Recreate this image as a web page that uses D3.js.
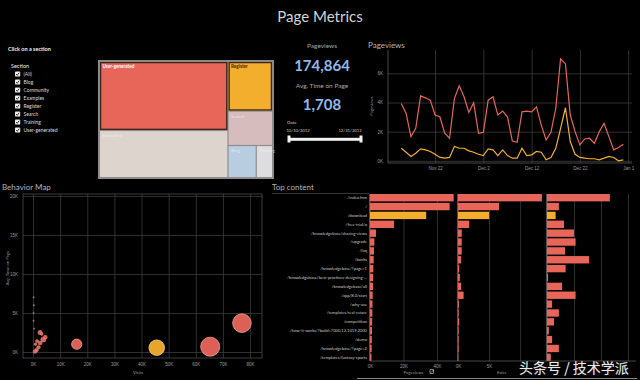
<!DOCTYPE html>
<html>
<head>
<meta charset="utf-8">
<script src="https://cdn.jsdelivr.net/npm/d3@7"></script>
<style>
  body { margin: 0; background: #000; }
  svg { display: block; font-family: Lato, "Open Sans", sans-serif; }
  .grid line { stroke: #3c3c3c; stroke-width: 0.8; }
  .grid .domain { display: none; }
  .grid text { fill: #9a9a9a; font-size: 4.5px; }
</style>
</head>
<body>
<svg id="chart" width="640" height="380"></svg>
<script>
// ---- data ----
var sections = ["(All)", "Blog", "Community", "Examples", "Register", "Search", "Training", "User-generated"];

var treeNames  = ["User-generated", "Examples", "Register", "Search", "Blog", "Training"];
var treeValues = [44, 30, 11, 7.6, 4.5, 2.6];
var treeParent = ["left", "left", "right", "right", "rest", "rest"];
var treeSelected = ["User-generated", "Register"];

var kpiLabels = ["Pageviews", "Avg. Time on Page"];
var kpiValues = [174864, 1708];
var dateRange = ["10/10/2012", "12/31/2012"];

var lineDays = d3.timeDay.range(new Date(2012, 10, 15), new Date(2013, 0, 1));
var pageviewsAll = [3930,3250,1660,2230,4450,4320,4160,3140,3020,1890,
                    1550,4270,5140,4390,3320,3980,1890,1950,4160,4390,
                    3140,3410,3020,1360,1270,3360,3410,3360,3700,2450,
                    1430,1950,3590,7000,6660,3140,2000,1090,1500,1550,
                    1200,2000,2570,1660,750,910,1140];
var pageviewsDownload = [860,590,300,520,820,750,640,450,230,180,
                         230,980,860,860,680,590,450,360,820,750,
                         360,750,360,180,180,860,360,410,640,590,
                         70,230,860,2230,3640,1320,450,230,180,140,
                         140,70,180,300,230,0,70];
var lineTicks = [new Date(2012, 10, 22), new Date(2012, 11, 2), new Date(2012, 11, 12), new Date(2012, 11, 22), new Date(2013, 0, 1)];

var topPages = ["/index.htm", "/", "/download", "/free-trial/o", "/knowledgebase/sharing-views",
                "/upgrade", "/faq", "/banks", "/knowledgebase/?page=1",
                "/knowledgebase/best-practices-designing-...", "/knowledgebase/all", "/app/8.0/start",
                "/why-use", "/templates/real-estate", "/competition",
                "/how-it-works/?build=7000.12.1019.2000", "/demo", "/knowledgebase/?page=2",
                "/templates/fantasy-sports"];
var topPageviews = [50000,47600,33600,14400,3600,2600,2400,2200,2000,1900,1800,1600,1500,1400,1300,1200,1100,1000,900];
var topExits = [13500,6600,5000,1800,600,600,600,500,200,300,500,900,150,100,200,100,100,100,50];
var topThird = [2.33,0.44,0.32,0.63,1.0,1.06,0.67,1.56,0.69,0.04,0.56,1.06,0.19,0.44,0.26,0.07,0.19,0.44,0.14];

// behavior map, one point per top page
var bmVisits = [65300,77000,45600,16100,3800,2600,2600,4500,1300,700,2000,200,200,200,1500,400,3200,900,300];
var bmTime   = [680,3700,550,1000,1600,2500,1150,1900,250,50,600,7000,5000,4000,1400,3000,2300,1000,6000];

var highlight = "/download";

// ---- colours ----
var red = "#e8655a", orange = "#f3ae2e";
var treeColor = {"User-generated": red, "Examples": "#ddd5cd", "Register": orange,
                 "Search": "#d7bcbe", "Blog": "#b9cde0", "Training": "#dddde0"};

var svg = d3.select("#chart");

svg.append("text")
    .attr("x", 320).attr("y", 22)
    .attr("text-anchor", "middle")
    .attr("fill", "#d4d4d4")
    .attr("font-size", 15)
    .text("Page Metrics");

// ---- filter list ----
var filter = svg.append("g");
filter.append("text")
    .attr("x", 8).attr("y", 51)
    .attr("fill", "#eee").attr("font-size", 5.5).attr("font-weight", "bold")
    .text("Click on a section");
filter.append("text")
    .attr("x", 11).attr("y", 67.5)
    .attr("fill", "#eee").attr("font-size", 5.5)
    .text("Section");

var item = filter.selectAll("g.item")
        .data(sections)
        .enter()
    .append("g")
        .attr("class", "item")
        .attr("transform", function(d, i) { return "translate(15," + (74 + i * 8) + ")"; });
item.append("rect")
    .attr("x", 0).attr("y", -2.6).attr("width", 5.2).attr("height", 5.2).attr("rx", 0.8)
    .attr("fill", "#f2f2f2");
item.append("path")
    .attr("d", "M1.1,0 L2.3,1.3 L4.2,-1.3")
    .attr("fill", "none").attr("stroke", "#222").attr("stroke-width", 0.9);
item.append("text")
    .attr("x", 8.5).attr("y", 1.8)
    .attr("fill", "#ddd").attr("font-size", 5)
    .text(function(d) { return d; });

// ---- treemap ----
var treeRows = [{id: "root"}, {id: "left", parent: "root"}, {id: "right", parent: "root"}];
treeNames.forEach(function(n, i) {
    if (treeParent[i] == "rest" && !treeRows.find(function(r) { return r.id == "rest"; }))
        treeRows.push({id: "rest", parent: "right"});
    treeRows.push({id: n, parent: treeParent[i], value: treeValues[i]});
});
var root = d3.stratify()
    .id(function(d) { return d.id; })
    .parentId(function(d) { return d.parent; })(treeRows)
    .sum(function(d) { return d.value || 0; });
d3.treemap().tile(d3.treemapSliceDice).size([172, 115]).paddingInner(1.2)(root);

var tm = svg.append("g").attr("transform", "translate(100,62)");
tm.append("rect")
    .attr("x", -2).attr("y", -2).attr("width", 176).attr("height", 119)
    .attr("fill", "#8d8d8d");
var cell = tm.selectAll("g.cell")
        .data(root.leaves())
        .enter()
    .append("g")
        .attr("class", "cell");
cell.append("rect")
    .attr("x", function(d) { return d.x0; })
    .attr("y", function(d) { return d.y0; })
    .attr("width", function(d) { return d.x1 - d.x0; })
    .attr("height", function(d) { return d.y1 - d.y0; })
    .attr("fill", function(d) { return treeColor[d.id]; });
cell.filter(function(d) { return treeSelected.includes(d.id); })
    .append("rect")
    .attr("x", function(d) { return d.x0 + 0.6; })
    .attr("y", function(d) { return d.y0 + 0.6; })
    .attr("width", function(d) { return d.x1 - d.x0 - 1.2; })
    .attr("height", function(d) { return d.y1 - d.y0 - 1.2; })
    .attr("fill", "none").attr("stroke", "#3b2418").attr("stroke-width", 1.3);
cell.append("text")
    .attr("x", function(d) { return d.x0 + 2.5; })
    .attr("y", function(d) { return d.y0 + 6; })
    .attr("font-size", 4.6)
    .attr("font-weight", function(d) { return treeSelected.includes(d.id) ? "bold" : "normal"; })
    .attr("fill", function(d) {
        if (d.id == "User-generated") return "#fff";
        if (d.id == "Register") return "#3a2410";
        return "rgba(255,255,255,0.55)";
    })
    .text(function(d) { return d.id; });

// ---- KPIs ----
var kpi = svg.append("g").attr("text-anchor", "middle");
kpiLabels.forEach(function(lab, i) {
    kpi.append("text")
        .attr("x", 322).attr("y", 47.5 + i * 40.5)
        .attr("fill", "#a8a8a8").attr("font-size", 6.5)
        .text(lab);
    kpi.append("text")
        .attr("x", 322).attr("y", 70.5 + i * 39.5)
        .attr("fill", "#8fb9ea").attr("font-size", 15).attr("font-weight", "bold")
        .text(d3.format(",")(kpiValues[i]));
});
svg.append("text")
    .attr("x", 287).attr("y", 124)
    .attr("fill", "#ccc").attr("font-size", 4.6)
    .text("Date");
svg.selectAll("text.date")
        .data(dateRange)
        .enter()
    .append("text")
        .attr("class", "date")
        .attr("x", function(d, i) { return i ? 350 : 298; })
        .attr("y", 131.5)
        .attr("text-anchor", "middle")
        .attr("fill", "#ccc").attr("font-size", 4.2)
        .text(function(d) { return d; });
svg.append("rect")
    .attr("x", 289).attr("y", 137.8).attr("width", 72).attr("height", 3)
    .attr("fill", "#f2f2f2");
[289, 361].forEach(function(x) {
    svg.append("path")
        .attr("d", "M" + (x - 1.5) + ",135.5 h3 v7 h-3 z")
        .attr("fill", "#f2f2f2");
});

// ---- pageviews line chart ----
svg.append("text")
    .attr("x", 368).attr("y", 48)
    .attr("fill", "#b5b5b5").attr("font-size", 8)
    .text("Pageviews");

var lx = d3.scaleTime()
    .domain([new Date(2012, 10, 12, 6), new Date(2013, 0, 1, 19)])
    .range([388, 632]);
var ly = d3.scaleLinear().domain([-150, 7600]).range([163, 50]);

svg.append("g")
    .attr("class", "grid")
    .attr("transform", "translate(0,163)")
    .call(d3.axisBottom(lx).tickValues(lineTicks).tickSize(-113).tickPadding(4)
        .tickFormat(d3.timeFormat("%b %-d")));
svg.append("g")
    .attr("class", "grid")
    .attr("transform", "translate(388,0)")
    .call(d3.axisLeft(ly).tickValues([0, 2000, 4000, 6000]).tickSize(-244).tickPadding(5)
        .tickFormat(function(d) { return d / 1000 + "K"; }));
svg.append("path")
    .attr("d", "M388,50 V163 H632")
    .attr("fill", "none").attr("stroke", "#666").attr("stroke-width", 0.7);
svg.append("text")
    .attr("transform", "translate(373,106) rotate(-90)")
    .attr("text-anchor", "middle")
    .attr("fill", "#999").attr("font-size", 4.2)
    .text("Pageviews");

var line = d3.line()
    .x(function(d, i) { return lx(lineDays[i]); })
    .y(function(d) { return ly(d); });
svg.append("path")
    .datum(pageviewsAll)
    .attr("d", line)
    .attr("fill", "none").attr("stroke", red).attr("stroke-width", 1.2);
svg.append("path")
    .datum(pageviewsDownload)
    .attr("d", line)
    .attr("fill", "none").attr("stroke", orange).attr("stroke-width", 1.2);

// ---- behavior map ----
svg.append("text")
    .attr("x", 2).attr("y", 190)
    .attr("fill", "#b5b5b5").attr("font-size", 8)
    .text("Behavior Map");

var bx = d3.scaleLinear().domain([-3700, 84400]).range([23, 262]);
var by = d3.scaleLinear().domain([-770, 20250]).range([358, 194]);
var br = d3.scaleSqrt().domain([0, 50000]).range([0, 9.5]);

svg.append("g")
    .attr("class", "grid")
    .attr("transform", "translate(0,358)")
    .call(d3.axisBottom(bx).tickValues(d3.range(0, 80001, 10000)).tickSize(-164).tickPadding(5)
        .tickFormat(function(d) { return d / 1000 + "K"; }));
svg.append("g")
    .attr("class", "grid")
    .attr("transform", "translate(23,0)")
    .call(d3.axisLeft(by).tickValues(d3.range(0, 20001, 5000)).tickSize(-239).tickPadding(5)
        .tickFormat(function(d) { return d / 1000 + "K"; }));
svg.append("rect")
    .attr("x", 23).attr("y", 194).attr("width", 239).attr("height", 164)
    .attr("fill", "none").attr("stroke", "#555").attr("stroke-width", 0.7);
svg.append("text")
    .attr("x", 138).attr("y", 373.5)
    .attr("text-anchor", "middle")
    .attr("fill", "#999").attr("font-size", 4.3)
    .text("Visits");
svg.append("text")
    .attr("transform", "translate(8.5,268) rotate(-90)")
    .attr("text-anchor", "middle")
    .attr("fill", "#999").attr("font-size", 4.3)
    .text("Avg. Time on Page");

var bubbles = topPages.map(function(p, i) {
    return {page: p, visits: bmVisits[i], time: bmTime[i], pv: topPageviews[i]};
}).sort(function(a, b) { return b.pv - a.pv; });
svg.append("g")
    .selectAll("circle")
        .data(bubbles)
        .enter()
    .append("circle")
        .attr("cx", function(d) { return bx(d.visits); })
        .attr("cy", function(d) { return by(d.time); })
        .attr("r", function(d) { return d.visits < 500 ? 0.7 : br(d.pv); })
        .attr("fill", function(d) { return d.page == highlight ? orange : red; })
        .attr("fill-opacity", function(d) { return d.visits < 500 ? 0.6 : 0.95; })
        .attr("stroke", function(d) { return d.page == highlight ? "#f8cf7a" : "#f3a59b"; })
        .attr("stroke-width", function(d) { return d.pv > 10000 ? 0.8 : 0.4; });

// ---- top content ----
svg.append("text")
    .attr("x", 272).attr("y", 190)
    .attr("fill", "#b5b5b5").attr("font-size", 8)
    .text("Top content");
svg.append("line")
    .attr("x1", 272).attr("x2", 369).attr("y1", 193.5).attr("y2", 193.5)
    .attr("stroke", "#555").attr("stroke-width", 0.6);

var ty = d3.scaleBand().domain(topPages).range([194, 361]).paddingInner(0.17);
var panels = [
    {values: topPageviews, x: d3.scaleLinear().domain([0, 52000]).range([370, 457]), ticks: [0, 20000, 40000], labelled: [0, 20000, 40000], title: "Pageviews"},
    {values: topExits, x: d3.scaleLinear().domain([0, 14000]).range([458, 545]), ticks: [0, 5000, 10000], labelled: [0, 5000], title: "Exits"},
    {values: topThird, x: d3.scaleLinear().domain([0, 3.3]).range([547, 636]), ticks: [0, 1, 2, 3], labelled: [], title: null}
];

svg.append("g")
    .selectAll("text")
        .data(topPages)
        .enter()
    .append("text")
        .attr("x", 367)
        .attr("y", function(d) { return ty(d) + ty.bandwidth() / 2 + 1.4; })
        .attr("text-anchor", "end")
        .attr("fill", "#c8c8c8").attr("font-size", 4.1)
        .text(function(d) { return d; });

panels.forEach(function(p) {
    var g = svg.append("g");
    g.append("g")
        .attr("class", "grid")
        .attr("transform", "translate(0,361)")
        .call(d3.axisBottom(p.x).tickValues(p.ticks).tickSize(-167).tickPadding(4)
            .tickFormat(function(d) { return p.labelled.includes(d) ? d / 1000 + "K" : ""; }));
    g.selectAll("rect")
            .data(p.values)
            .enter()
        .append("rect")
            .attr("x", p.x(0))
            .attr("y", function(d, i) { return ty(topPages[i]); })
            .attr("width", function(d) { return p.x(d) - p.x(0); })
            .attr("height", ty.bandwidth())
            .attr("fill", function(d, i) { return topPages[i] == highlight ? orange : red; });
    g.append("line")
        .attr("x1", p.x.range()[0] - 0.5).attr("x2", p.x.range()[0] - 0.5)
        .attr("y1", 194).attr("y2", 361)
        .attr("stroke", "#777").attr("stroke-width", 0.7);
    if (p.title) {
        g.append("text")
            .attr("x", (p.x.range()[0] + p.x.range()[1]) / 2)
            .attr("y", 373.5)
            .attr("text-anchor", "middle")
            .attr("fill", "#999").attr("font-size", 4.3)
            .text(p.title);
    }
});
svg.append("line")
    .attr("x1", 370).attr("x2", 636).attr("y1", 361).attr("y2", 361)
    .attr("stroke", "#666").attr("stroke-width", 0.7);
// sort icon next to Pageviews
svg.append("path")
    .attr("d", "M430,369.5 h3.5 v4 h-3.5 z M431,372.5 l2.5,-2.5")
    .attr("fill", "none").attr("stroke", "#bbb").attr("stroke-width", 0.7);
svg.append("line")
    .attr("x1", 357).attr("x2", 637).attr("y1", 378.5).attr("y2", 378.5)
    .attr("stroke", "#8a8a8a").attr("stroke-width", 1);

// watermark
svg.append("text")
    .attr("x", 574).attr("y", 373)
    .attr("text-anchor", "middle")
    .attr("font-family", "'Noto Sans CJK SC', sans-serif")
    .attr("font-size", 14)
    .attr("fill", "#fff").attr("fill-opacity", 0.92)
    .attr("stroke", "#444").attr("stroke-width", 0.5).attr("paint-order", "stroke")
    .text("头条号 / 技术学派");
</script>
</body>
</html>
